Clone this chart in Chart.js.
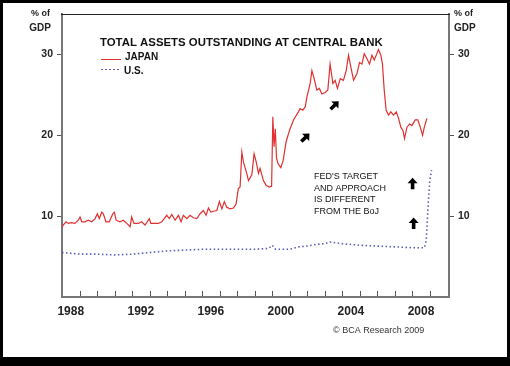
<!DOCTYPE html>
<html>
<head>
<meta charset="utf-8">
<script src="https://cdn.jsdelivr.net/npm/chart.js@4"></script>
<style>
  body { margin: 0; background: #000; }
  #paper { position: absolute; left: 3px; top: 3px; width: 504px; height: 354px; background: #fff; }
  #chart { position: absolute; left: 0; top: 0; }
</style>
</head>
<body>
<div id="paper"></div>
<canvas id="chart" width="510" height="366"></canvas>
<script>
// Total assets at central bank, % of GDP
const japanYears = [
  1988.00, 1988.07, 1988.23, 1988.36, 1988.55, 1988.74, 1988.93, 1989.03, 1989.13, 1989.31,
  1989.50, 1989.70, 1989.89, 1990.02, 1990.13, 1990.27, 1990.36, 1990.51, 1990.70, 1990.90,
  1990.99, 1991.09, 1991.31, 1991.50, 1991.70, 1991.89, 1991.98, 1992.11, 1992.36, 1992.55,
  1992.74, 1992.99, 1993.07, 1993.31, 1993.50, 1993.70, 1993.98, 1994.13, 1994.27, 1994.46,
  1994.65, 1994.80, 1994.93, 1995.03, 1995.13, 1995.31, 1995.50, 1995.70, 1995.89, 1996.07,
  1996.23, 1996.36, 1996.50, 1996.65, 1996.84, 1996.99, 1997.13, 1997.27, 1997.41, 1997.60,
  1997.79, 1997.94, 1998.07, 1998.17, 1998.27, 1998.36, 1998.55, 1998.65, 1998.84, 1998.97,
  1999.09, 1999.22, 1999.31, 1999.50, 1999.66, 1999.85, 1999.97, 2000.04, 2000.11, 2000.18,
  2000.25, 2000.33, 2000.50, 2000.63, 2000.80, 2000.99, 2001.22, 2001.50, 2001.60, 2001.75,
  2001.89, 2001.98, 2002.17, 2002.27, 2002.40, 2002.55, 2002.70, 2002.84, 2003.03, 2003.18,
  2003.31, 2003.47, 2003.60, 2003.73, 2003.89, 2004.07, 2004.23, 2004.36, 2004.50, 2004.65,
  2004.84, 2004.99, 2005.13, 2005.26, 2005.41, 2005.56, 2005.70, 2005.83, 2005.98, 2006.07,
  2006.21, 2006.30, 2006.40, 2006.51, 2006.65, 2006.78, 2006.93, 2007.09, 2007.22, 2007.35,
  2007.47, 2007.56, 2007.70, 2007.85, 2007.98, 2008.17, 2008.32, 2008.46, 2008.59, 2008.69,
  2008.84
];
const japanValues = [
  8.6, 8.9, 9.3, 9.1, 9.2, 9.1, 9.5, 9.9, 9.3, 9.3,
  9.5, 9.3, 9.7, 10.3, 9.7, 10.5, 10.3, 9.3, 9.3, 10.3,
  10.5, 9.5, 9.3, 9.5, 9.1, 8.7, 9.9, 9.1, 9.1, 9.3,
  8.9, 9.7, 9.1, 9.1, 9.1, 9.3, 10.1, 9.7, 10.2, 9.5,
  10.1, 9.3, 10.1, 9.9, 9.7, 10.1, 9.8, 9.7, 10.3, 10.7,
  10.1, 11.0, 10.5, 10.6, 10.7, 11.8, 10.9, 11.8, 11.1, 10.9,
  11.0, 11.5, 13.4, 13.6, 17.9, 16.7, 15.3, 14.4, 15.1, 17.7,
  16.7, 15.3, 15.9, 14.4, 13.8, 13.6, 13.7, 22.3, 18.6, 20.8,
  17.2, 16.5, 16.0, 16.9, 19.2, 20.6, 21.9, 22.9, 23.3, 23.1,
  23.5, 24.7, 26.4, 28.0, 27.0, 25.6, 25.8, 25.1, 25.3, 25.6,
  28.8, 26.4, 26.8, 25.8, 27.0, 26.8, 28.0, 29.9, 28.4, 26.8,
  27.6, 29.0, 28.8, 30.1, 29.5, 28.8, 29.9, 29.3, 30.1, 30.6,
  29.9, 28.8, 25.6, 23.1, 22.5, 22.9, 22.5, 22.9, 22.1, 21.0,
  20.6, 19.6, 21.0, 21.4, 21.2, 21.9, 21.9, 21.0, 20.0, 21.0,
  22.1
];

const usYears = [
  1988.0, 1988.5, 1989.0, 1990.0, 1991.0, 1992.0, 1993.0, 1994.0, 1995.0, 1996.0,
  1997.0, 1998.0, 1999.0, 1999.8, 2000.0, 2000.2, 2001.0, 2001.5, 2002.0, 2002.5,
  2003.0, 2003.3, 2004.0, 2005.0, 2006.0, 2007.0, 2008.0, 2008.7, 2008.8, 2008.9,
  2009.0, 2009.1
];
const usValues = [
  5.5, 5.4, 5.3, 5.3, 5.2, 5.3, 5.5, 5.7, 5.8, 5.9,
  5.9, 5.9, 5.9, 6.0, 6.4, 5.9, 5.9, 6.2, 6.3, 6.5,
  6.6, 6.8, 6.6, 6.4, 6.3, 6.2, 6.1, 6.1, 7.0, 11.0,
  14.4, 15.7
];

const yTicks = [10, 20, 30];
const yearLabels = [1988, 1992, 1996, 2000, 2004, 2008];
const yearMarks = [];
for (let y = 1989; y <= 2009; y++) yearMarks.push(y);

const FONT = "'Liberation Sans', Arial, sans-serif";

// arrows placed in data units: [year, value, angle]
const arrows = [
  [2001.89, 19.7, Math.PI / 4],
  [2003.56, 23.7, Math.PI / 4],
  [2008.02, 14.0, 0],
  [2008.08, 9.1, 0]
];

function drawArrow(ctx, x, y, angle) {
  ctx.save();
  ctx.translate(x, y);
  ctx.rotate(angle);
  ctx.fillStyle = "#000";
  ctx.beginPath();
  ctx.moveTo(0, -6);
  ctx.lineTo(5, -0.5);
  ctx.lineTo(1.8, -0.5);
  ctx.lineTo(1.8, 5.5);
  ctx.lineTo(-1.8, 5.5);
  ctx.lineTo(-1.8, -0.5);
  ctx.lineTo(-5, -0.5);
  ctx.closePath();
  ctx.fill();
  ctx.restore();
}

const decorPlugin = {
  id: "decor",
  afterDraw(chart) {
    const ctx = chart.ctx;
    const a = chart.chartArea;
    const xs = chart.scales.x;
    const ys = chart.scales.y;
    ctx.save();

    // top frame line
    ctx.strokeStyle = "#222";
    ctx.lineWidth = 1;
    ctx.beginPath();
    ctx.moveTo(a.left - 1, a.top + 0.5);
    ctx.lineTo(a.right + 1, a.top + 0.5);
    ctx.stroke();

    // yearly tick marks pointing up from the bottom axis
    ctx.strokeStyle = "#555";
    yearMarks.forEach(yr => {
      const px = Math.round(xs.getPixelForValue(yr)) + 0.5;
      ctx.beginPath();
      ctx.moveTo(px, a.bottom - 1);
      ctx.lineTo(px, a.bottom - 6);
      ctx.stroke();
    });

    // "% of GDP" units
    ctx.fillStyle = "#222";
    ctx.textBaseline = "middle";
    ctx.font = "bold 9px " + FONT;
    ctx.textAlign = "right";
    ctx.fillText("% of", 50, 14);
    ctx.textAlign = "left";
    ctx.fillText("% of", 454, 14);
    ctx.font = "bold 10px " + FONT;
    ctx.textAlign = "right";
    ctx.fillText("GDP", 51, 28);
    ctx.textAlign = "left";
    ctx.fillText("GDP", 454, 28);

    // title + legend
    ctx.fillStyle = "#111";
    ctx.font = "bold 11.4px " + FONT;
    ctx.fillText("TOTAL ASSETS OUTSTANDING AT CENTRAL BANK", 100, 43);
    ctx.font = "bold 10px " + FONT;
    ctx.fillText("JAPAN", 125, 57);
    ctx.fillText("U.S.", 124, 71);
    ctx.strokeStyle = "#e03030";
    ctx.lineWidth = 1;
    ctx.beginPath();
    ctx.moveTo(101, 59.5);
    ctx.lineTo(121, 59.5);
    ctx.stroke();
    ctx.strokeStyle = "#5a5ab8";
    ctx.setLineDash([2, 2]);
    ctx.beginPath();
    ctx.moveTo(101, 69.5);
    ctx.lineTo(121, 69.5);
    ctx.stroke();
    ctx.setLineDash([]);

    // note
    ctx.fillStyle = "#111";
    ctx.font = "9px " + FONT;
    ["FED'S TARGET", "AND APPROACH", "IS DIFFERENT", "FROM THE BoJ"].forEach((t, i) => {
      ctx.fillText(t, 314, 177 + i * 11.5);
    });

    arrows.forEach(([yr, v, ang]) => {
      drawArrow(ctx, xs.getPixelForValue(yr), ys.getPixelForValue(v), ang);
    });

    // source
    ctx.fillStyle = "#333";
    ctx.font = "9px " + FONT;
    ctx.textAlign = "left";
    ctx.fillText("\u00A9 BCA Research 2009", 333, 331);
    ctx.restore();
  }
};

const yAxis = (pos) => ({
  type: "linear",
  position: pos,
  min: 0,
  max: 35,
  afterBuildTicks: s => { s.ticks = yTicks.map(v => ({ value: v })); },
  afterFit: s => { s.width = pos === "left" ? 62 : 61; },
  border: { display: true, color: "#777", width: 2 },
  grid: { drawOnChartArea: false, drawTicks: true, tickLength: 5, color: "#555" },
  ticks: {
    color: "#222",
    padding: 4,
    font: { family: FONT, size: 10.5, weight: "bold" }
  }
});

new Chart(document.getElementById("chart"), {
  type: "line",
  data: {
    datasets: [
      {
        label: "JAPAN",
        data: japanYears.map((x, i) => ({ x: x, y: japanValues[i] })),
        borderColor: "#e03030",
        borderWidth: 1.2,
        pointRadius: 0,
        tension: 0,
        yAxisID: "y"
      },
      {
        label: "U.S.",
        data: usYears.map((x, i) => ({ x: x, y: usValues[i] })),
        borderColor: "#5a5ab8",
        borderWidth: 1.6,
        borderDash: [1.5, 2.5],
        pointRadius: 0,
        tension: 0,
        yAxisID: "y"
      }
    ]
  },
  options: {
    responsive: false,
    animation: false,
    devicePixelRatio: 1,
    layout: { padding: { top: 14, left: 0, right: 0, bottom: 0 } },
    plugins: {
      legend: { display: false },
      tooltip: { enabled: false }
    },
    scales: {
      x: {
        type: "linear",
        min: 1988,
        max: 2010.1,
        afterBuildTicks: s => { s.ticks = yearLabels.map(v => ({ value: v + 0.5 })); },
        afterFit: s => { s.height = 69; },
        border: { display: true, color: "#777", width: 2 },
        grid: { display: false, drawTicks: false },
        ticks: {
          color: "#222",
          padding: 7,
          maxRotation: 0,
          autoSkip: false,
          callback: v => String(Math.floor(v)),
          font: { family: FONT, size: 12, weight: "bold" }
        }
      },
      y: yAxis("left"),
      y2: yAxis("right")
    }
  },
  plugins: [decorPlugin]
});
</script>
</body>
</html>
